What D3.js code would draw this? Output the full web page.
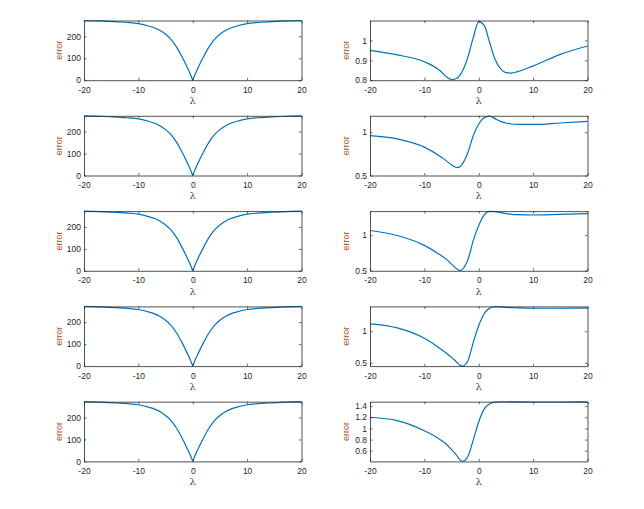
<!DOCTYPE html>
<html>
<head>
<meta charset="utf-8">
<script src="https://cdn.jsdelivr.net/npm/d3@7"></script>
<style>
  body { margin: 0; background: #fff; }
  svg text { font-family: "Liberation Sans", Arial, sans-serif; }
</style>
</head>
<body>
<script>
// lambda grids
var lambdaLeft = [-20, -17, -14, -12, -10, -8, -7, -6, -5, -4, -3, -2, -1, -0.5, 0,
                  0.5, 1, 2, 3, 4, 5, 6, 7, 8, 10, 12, 14, 17, 20];
var lambdaRight = [-20, -15, -10, -7, -6, -5, -4, -3.5, -3, -2.5, -2, -1, 0,
                   1, 2, 3, 4, 5, 6, 7, 10, 15, 20];

// left column: same error curve in all five rows
var errorLeft = [272, 270, 266, 263, 258, 246, 238, 226, 209, 186, 152, 108, 58, 31, 0,
                 31, 58, 108, 152, 186, 209, 226, 238, 246, 258, 263, 266, 270, 272];

// right column, one series per row
var errorRight1 = [0.950, 0.927, 0.893, 0.845, 0.818, 0.803, 0.810, 0.824, 0.846, 0.876, 0.916,
                   1.015, 1.094, 1.075, 0.990, 0.905, 0.858, 0.838, 0.836, 0.842, 0.872, 0.930, 0.972];
var errorRight2 = [0.962, 0.924, 0.828, 0.718, 0.672, 0.622, 0.592, 0.600, 0.635, 0.690, 0.765,
                   0.962, 1.095, 1.168, 1.187, 1.157, 1.125, 1.107, 1.095, 1.090, 1.090, 1.107, 1.125];
var errorRight3 = [1.065, 0.995, 0.855, 0.715, 0.660, 0.590, 0.520, 0.500, 0.515, 0.570, 0.650,
                   0.925, 1.136, 1.285, 1.336, 1.333, 1.318, 1.305, 1.295, 1.290, 1.285, 1.294, 1.304];
var errorRight4 = [1.117, 1.053, 0.888, 0.720, 0.655, 0.585, 0.505, 0.465, 0.448, 0.470, 0.532,
                   0.824, 1.090, 1.277, 1.367, 1.390, 1.388, 1.380, 1.375, 1.372, 1.365, 1.365, 1.367];
var errorRight5 = [1.200, 1.140, 0.958, 0.794, 0.720, 0.620, 0.510, 0.440, 0.412, 0.430, 0.500,
                   0.794, 1.120, 1.346, 1.442, 1.472, 1.477, 1.477, 1.475, 1.474, 1.473, 1.473, 1.474];

// axis limits and ticks
var xTicks = [-20, -10, 0, 10, 20];
var leftDomain = [0, 272];
var leftTicks = [0, 100, 200];
var rightDomains = [[0.8, 1.1], [0.5, 1.19], [0.495, 1.34], [0.447, 1.394], [0.409, 1.478]];
var rightTicks = [[0.8, 0.9, 1], [0.5, 1], [0.5, 1], [0.5, 1], [0.6, 0.8, 1, 1.2, 1.4]];
var rightSeries = [errorRight1, errorRight2, errorRight3, errorRight4, errorRight5];

// Chart Params
var svgWidth = 644;
var svgHeight = 509;
var colLeft = [84, 370];
var plotWidth = 217.5;
var plotHeight = 59.7;
var firstRowY = 20.5;
var rowStep = 95.3;

var lineColor = "#0072bd";
var axisColor = "#262626";

var svg = d3.select("body")
  .append("svg")
  .attr("width", svgWidth)
  .attr("height", svgHeight);

// matlab writes a plain hyphen for negatives
var fmt = d => String(d);

function drawPanel(px, py, xs, ys, domain, ticks, splitAtZero) {
  var g = svg.append("g")
    .attr("transform", `translate(${px}, ${py})`);

  var x = d3.scaleLinear().domain([-20, 20]).range([0, plotWidth]);
  var y = d3.scaleLinear().domain(domain).range([plotHeight, 0]);

  var pts = xs.map((d, i) => [d, ys[i]]);

  var line = d3.line()
    .x(d => x(d[0]))
    .y(d => y(d[1]))
    .curve(d3.curveMonotoneX);

  // the left curves have a cusp at 0, so draw each side separately
  var parts = splitAtZero
    ? [pts.filter(d => d[0] <= 0), pts.filter(d => d[0] >= 0)]
    : [pts];

  var clipId = `clip-${px}-${Math.round(py)}`;
  g.append("defs").append("clipPath")
    .attr("id", clipId)
    .append("rect")
    .attr("x", -1).attr("y", -1)
    .attr("width", plotWidth + 2).attr("height", plotHeight + 2);

  parts.forEach(p => {
    g.append("path")
      .datum(p)
      .attr("d", line)
      .attr("fill", "none")
      .attr("stroke", lineColor)
      .attr("stroke-width", 1.2)
      .attr("clip-path", `url(#${clipId})`);
  });

  // box-style axes, ticks pointing inward (matlab style)
  var bottomAxis = d3.axisBottom(x).tickValues(xTicks).tickSizeInner(-2.5).tickSizeOuter(0)
    .tickPadding(6.5).tickFormat(fmt);
  var topAxis = d3.axisTop(x).tickValues(xTicks).tickSizeInner(-2.5).tickSizeOuter(0)
    .tickFormat("");
  var leftAxis = d3.axisLeft(y).tickValues(ticks).tickSizeInner(-2.5).tickSizeOuter(0)
    .tickPadding(3).tickFormat(fmt);
  var rightAxis = d3.axisRight(y).tickValues(ticks).tickSizeInner(-2.5).tickSizeOuter(0)
    .tickFormat("");

  var axes = [
    g.append("g").attr("transform", `translate(0, ${plotHeight})`).call(bottomAxis),
    g.append("g").call(topAxis),
    g.append("g").call(leftAxis),
    g.append("g").attr("transform", `translate(${plotWidth}, 0)`).call(rightAxis)
  ];

  axes.forEach(a => {
    a.select(".domain").attr("stroke", axisColor).attr("stroke-width", 0.8);
    a.selectAll(".tick line").attr("stroke", axisColor).attr("stroke-width", 0.7);
    a.selectAll(".tick text")
      .attr("fill", axisColor)
      .style("font-size", "8.5px");
  });

  // axis titles
  g.append("text")
    .attr("x", plotWidth / 2)
    .attr("y", plotHeight + 24)
    .attr("text-anchor", "middle")
    .attr("fill", "#4d4d4d")
    .style("font-size", "10px")
    .style("font-family", "DejaVu Serif, serif")
    .text("λ");

  g.append("text")
    .attr("transform", `translate(${splitAtZero ? -22.5 : -21}, ${plotHeight / 2}) rotate(-90)`)
    .attr("text-anchor", "middle")
    .attr("fill", "#a8541c")
    .style("font-size", "9px")
    .text("error");
}

for (var r = 0; r < 5; r++) {
  var rowY = firstRowY + r * rowStep;
  drawPanel(colLeft[0], rowY, lambdaLeft, errorLeft, leftDomain, leftTicks, true);
  drawPanel(colLeft[1], rowY, lambdaRight, rightSeries[r], rightDomains[r], rightTicks[r], false);
}
</script>
</body>
</html>
